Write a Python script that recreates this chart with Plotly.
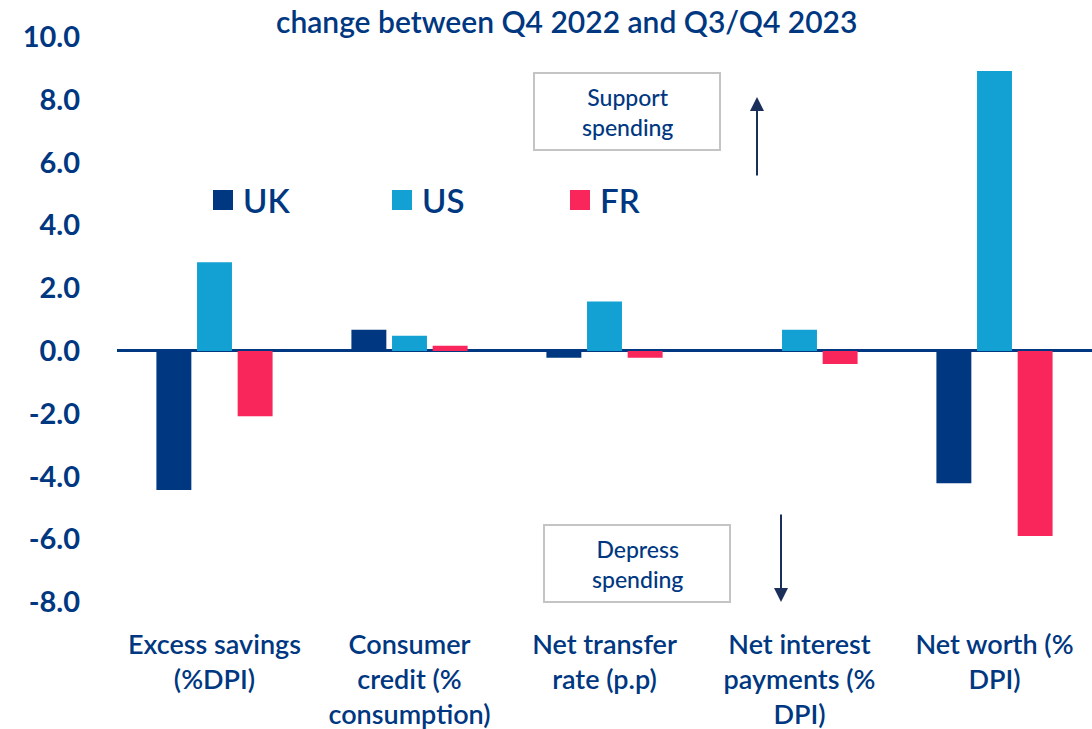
import plotly.graph_objects as go

categories = ["Excess savings<br>(%DPI)", "Consumer<br>credit (%<br>consumption)",
              "Net transfer<br>rate (p.p)", "Net interest<br>payments (%<br>DPI)",
              "Net worth (%<br>DPI)"]
series_names = ["UK", "US", "FR"]
uk_values = [-4.43, 0.67, -0.22, 0.0, -4.22]
us_values = [2.82, 0.48, 1.57, 0.67, 8.92]
fr_values = [-2.08, 0.16, -0.22, -0.42, -5.90]
series_colors = ["#003781", "#13A1D4", "#F8265A"]
tick_values = [-8, -6, -4, -2, 0, 2, 4, 6, 8, 10]
tick_labels = ["-8.0", "-6.0", "-4.0", "-2.0", "0.0", "2.0", "4.0", "6.0", "8.0", "10.0"]
title_text = "change between Q4 2022 and Q3/Q4 2023"
note_up = "Support<br>spending"
note_down = "Depress<br>spending"

NAVY = "#003781"
FONT = "Lato"
OFF = 0  # page body margin removed via post_script

fig = go.Figure()
for name, vals, col in zip(series_names, [uk_values, us_values, fr_values], series_colors):
    fig.add_trace(go.Bar(x=categories, y=vals, name=name, marker_color=col,
                         marker_line_width=0, showlegend=False, hoverinfo="skip"))

W, H = 1092, 729
ml, mr, mt, mb = 117 - OFF, 0, 37 - OFF, H - (602 - OFF)

fig.update_layout(
    width=W, height=H,
    margin=dict(l=ml, r=mr, t=mt, b=mb, autoexpand=False),
    paper_bgcolor="white", plot_bgcolor="white",
    barmode="group", bargap=0.375, bargroupgap=0.14,
    font=dict(family=FONT, color=NAVY),
    xaxis=dict(showgrid=False, showline=False, ticks="",
               tickfont=dict(size=27, color=NAVY, family=FONT, weight=600),
               ticklabelstandoff=24),
    yaxis=dict(range=[-8, 10], tickvals=tick_values, ticktext=tick_labels,
               showgrid=False, showline=False, zeroline=True, zerolinecolor=NAVY,
               zerolinewidth=3, tickfont=dict(size=29, color=NAVY, family=FONT, weight=700),
               ticklabelstandoff=36),
)

def px_x(p):
    return (p - OFF - ml) / (W - ml - mr)

def px_y(p):
    return 1 - (p - OFF - mt) / (H - mt - mb)

# title
fig.add_annotation(text=title_text, xref="paper", yref="paper",
                   x=px_x(566), y=px_y(21),
                   showarrow=False, xanchor="center", yanchor="middle",
                   font=dict(size=30, color=NAVY, family=FONT, weight=600))

# legend (manual, larger swatches)
leg_x = [213, 392, 570]
for name, col, lx in zip(series_names, series_colors, leg_x):
    fig.add_shape(type="rect", xref="paper", yref="paper",
                  x0=px_x(lx), x1=px_x(lx + 20), y0=px_y(210), y1=px_y(190),
                  fillcolor=col, line_width=0)
    fig.add_annotation(text=name, xref="paper", yref="paper",
                       x=px_x(lx + 28), y=px_y(200), showarrow=False,
                       xanchor="left", yanchor="middle",
                       font=dict(size=33, color=NAVY, family=FONT, weight=600))

# note boxes
for txt, (x0, y0, x1, y1) in [(note_up, (534, 73, 720, 150)), (note_down, (544, 525, 730, 602))]:
    fig.add_shape(type="rect", xref="paper", yref="paper",
                  x0=px_x(x0), x1=px_x(x1), y0=px_y(y1), y1=px_y(y0),
                  line=dict(color="#C4C4C4", width=2), fillcolor="white")
    fig.add_annotation(text=txt, xref="paper", yref="paper",
                       x=px_x((x0 + x1) / 2), y=px_y((y0 + y1) / 2), showarrow=False,
                       xanchor="center", yanchor="middle",
                       font=dict(size=23, color=NAVY, family=FONT, weight=500))

# arrows
fig.add_annotation(text="", xref="paper", yref="paper", axref="pixel", ayref="pixel",
                   x=px_x(757), y=px_y(97), ax=0, ay=80, showarrow=True,
                   arrowhead=2, arrowsize=1.4, arrowwidth=2, arrowcolor="#1B2F5B")
fig.add_annotation(text="", xref="paper", yref="paper", axref="pixel", ayref="pixel",
                   x=px_x(781), y=px_y(602), ax=0, ay=-89, showarrow=True,
                   arrowhead=2, arrowsize=1.4, arrowwidth=2, arrowcolor="#1B2F5B")

fig.write_html("out.html", config={"displayModeBar": False},
               post_script="document.body.style.margin='0';document.body.style.overflow='hidden';")
